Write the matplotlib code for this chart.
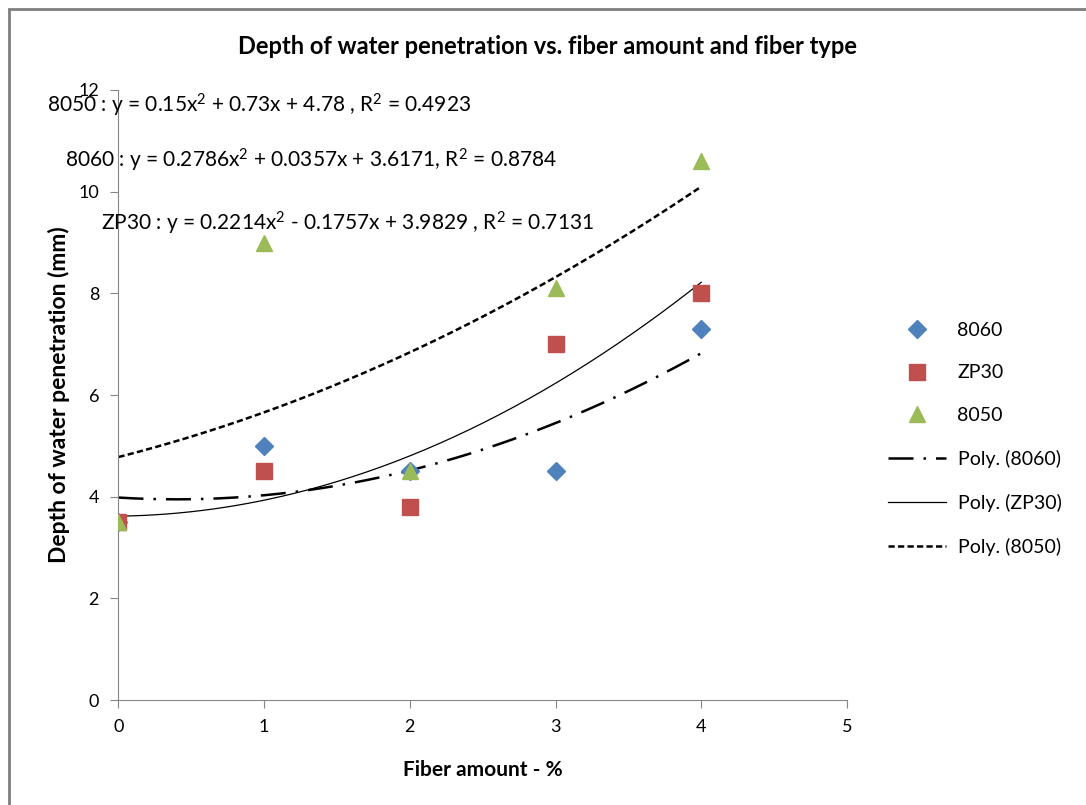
import matplotlib.pyplot as plt
import numpy as np
from matplotlib.patches import Rectangle

plt.rcParams["font.family"] = ["Lato", "DejaVu Sans"]
plt.rcParams["mathtext.fontset"] = "custom"
plt.rcParams["mathtext.rm"] = "Lato"
plt.rcParams["mathtext.it"] = "Lato:italic"

fiber_amount = [0, 1, 2, 3, 4]
depth_8060 = [3.5, 5.0, 4.5, 4.5, 7.3]
depth_zp30 = [3.5, 4.5, 3.8, 7.0, 8.0]
depth_8050 = [3.5, 9.0, 4.5, 8.1, 10.6]

# quadratic trend coefficients (a, b, c) for y = a x^2 + b x + c
poly_8060 = [0.2214, -0.1757, 3.9829]
poly_zp30 = [0.2786, 0.0357, 3.6171]
poly_8050 = [0.15, 0.73, 4.78]

SQ = r"$^{\mathrm{2}}$"
eq_labels = [
    f"8050 : y = 0.15x{SQ} + 0.73x + 4.78 , R{SQ} = 0.4923",
    f"8060 : y = 0.2786x{SQ} + 0.0357x + 3.6171, R{SQ} = 0.8784",
    f"ZP30 : y = 0.2214x{SQ} - 0.1757x + 3.9829 , R{SQ} = 0.7131",
]
eq_pos = [(-0.49, 11.69), (-0.37, 10.62), (-0.12, 9.38)]

BLUE = "#4F81BD"
RED = "#C0504D"
GREEN = "#9BBB59"
AXIS_GREY = "#868686"

fig = plt.figure(figsize=(10.86, 8.05), dpi=100)
fig.patches.append(Rectangle((9 / 1086, -0.1), 1.2, (805 - 9) / 805 + 0.1,
                             transform=fig.transFigure, fill=False,
                             edgecolor="#7f7f7f", linewidth=2))
ax = fig.add_axes([0.1091, 0.1304, 0.6708, 0.7578])

ax.plot(fiber_amount, depth_8060, "D", color=BLUE, markersize=9.5, label="8060", zorder=3)
ax.plot(fiber_amount, depth_zp30, "s", color=RED, markersize=12, label="ZP30", zorder=3)
ax.plot(fiber_amount, depth_8050, "^", color=GREEN, markersize=12, label="8050", zorder=3)

xs = np.linspace(0, 4, 200)
ax.plot(xs, np.polyval(poly_8060, xs), color="black", linewidth=1.8,
        linestyle=(0, (10, 4, 1, 4)), label="Poly. (8060)", zorder=2)
ax.plot(xs, np.polyval(poly_zp30, xs), color="black", linewidth=0.9,
        label="Poly. (ZP30)", zorder=2)
ax.plot(xs, np.polyval(poly_8050, xs), color="black", linewidth=1.8,
        linestyle=(0, (2.5, 1.3)), label="Poly. (8050)", zorder=2)

for text, (tx, ty) in zip(eq_labels, eq_pos):
    ax.text(tx, ty, text, fontsize=15, va="center", ha="left", clip_on=False)

ax.set_xlim(0, 5)
ax.set_ylim(0, 12)
ax.set_xticks(range(0, 6))
ax.set_yticks(range(0, 13, 2))
for side in ("top", "right"):
    ax.spines[side].set_visible(False)
for side in ("left", "bottom"):
    ax.spines[side].set_color(AXIS_GREY)
ax.tick_params(direction="out", length=6, color=AXIS_GREY, labelsize=13, pad=8)

ax.set_xlabel("Fiber amount - %", fontsize=15, fontweight="bold", labelpad=18)
ax.set_ylabel("Depth of water penetration (mm)", fontsize=16.5, fontweight="bold", labelpad=6)
fig.text(548 / 1086, 1 - 46 / 805, "Depth of water penetration vs. fiber amount and fiber type",
         fontsize=17, fontweight="bold", ha="center", va="center")

ax.legend(loc="upper left", bbox_to_anchor=(870 / 1086, 1 - 304 / 805),
          bbox_transform=fig.transFigure, frameon=False, fontsize=14,
          handlelength=3.0, labelspacing=1.33, handletextpad=0.6, numpoints=1)

fig.savefig("out.png", dpi=100)
